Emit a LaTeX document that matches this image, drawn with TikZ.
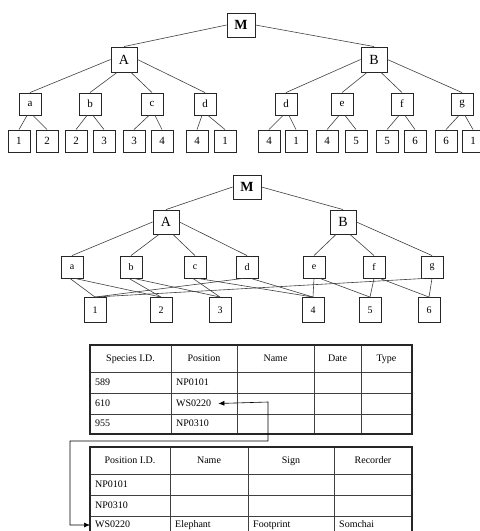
\documentclass[tikz,border=0pt]{standalone}
\usepackage{fontspec}
\setmainfont{Liberation Serif}
\usetikzlibrary{arrows.meta}
\begin{document}
\begin{tikzpicture}[x=1pt,y=-1pt,
  bigbox/.style={draw=black!85,line width=0.9pt,minimum width=26pt,minimum height=25pt,inner sep=0pt,font=\fontsize{14}{16}\selectfont},
  midbox/.style={draw=black!85,line width=0.9pt,minimum width=22pt,minimum height=22pt,inner sep=0pt,font=\fontsize{11}{13}\selectfont},
  leaftwo/.style={midbox,minimum height=25pt,font=\fontsize{10}{12}\selectfont},
  conn/.style={draw=black!75,line width=0.6pt},
  cell/.style={font=\fontsize{10}{12}\selectfont,inner sep=0pt,text height=7pt,text depth=2pt},
  outer/.style={draw=black!85,line width=1.6pt},
  inner/.style={draw=black!75,line width=0.7pt},
  link/.style={draw=black,line width=0.6pt,{Latex[length=6pt,width=5pt]}-{Latex[length=6pt,width=5pt]}}
]
\clip (0,0) rectangle (480,531);
\fill[white] (0,0) rectangle (480,531);

% ---------------- Tree 1 ----------------
\node[bigbox,minimum width=28pt,minimum height=24pt,font=\fontsize{14}{16}\selectfont\bfseries] (M1) at (241,25) {M};
\node[bigbox] (A1) at (124,59.5) {A};
\node[bigbox] (B1) at (374,59.5) {B};
\foreach \n/\x/\t in {pa/30/a,pb/90/b,pc/152/c,pd/205/d,pe/286/d,pf/342/e,pg/402/f,ph/462/g}
  \node[midbox] (\n) at (\x,104) {\t};
\foreach \i/\x/\t in {1/19/1,2/47/2,3/76/2,4/104/3,5/134/3,6/162/4,7/197/4,8/225/1,9/269/4,10/296/1,11/327/4,12/356/5,13/387/5,14/415/6,15/446/6,16/473/1}
  \node[midbox] (L\i) at (\x,141) {\t};

\draw[conn] (M1.west) -- (A1.north);
\draw[conn] (M1.east) -- (B1.north);
\draw[conn] (A1.west) -- (pa.north);
\draw[conn] ([xshift=-7]A1.south) -- (pb.north);
\draw[conn] ([xshift=7]A1.south) -- (pc.north);
\draw[conn] (A1.east) -- (pd.north);
\draw[conn] (B1.west) -- (pe.north);
\draw[conn] ([xshift=-7]B1.south) -- (pf.north);
\draw[conn] ([xshift=7]B1.south) -- (pg.north);
\draw[conn] (B1.east) -- (ph.north);
\foreach \p/\l/\r in {pa/1/2,pb/3/4,pc/5/6,pd/7/8,pe/9/10,pf/11/12,pg/13/14,ph/15/16}{
  \draw[conn] ([xshift=-3]\p.south) -- (L\l.north);
  \draw[conn] ([xshift=3]\p.south) -- (L\r.north);
}

% ---------------- Tree 2 ----------------
\node[bigbox,minimum width=28pt,minimum height=24pt,font=\fontsize{14}{16}\selectfont\bfseries] (M2) at (247,187) {M};
\node[bigbox,minimum height=24pt] (A2) at (166,222) {A};
\node[bigbox,minimum height=24pt] (B2) at (343,222) {B};
\foreach \n/\x/\t in {qa/72/a,qb/131/b,qc/195/c,qd/247/d,qe/314/e,qf/374/f,qg/432/g}
  \node[midbox,font=\fontsize{10}{12}\selectfont] (\n) at (\x,267) {\t};
\foreach \i/\x in {1/95,2/161,3/220,4/313,5/370,6/429}
  \node[leaftwo] (K\i) at (\x,310) {\i};

\draw[conn] (M2.west) -- (A2.north);
\draw[conn] (M2.east) -- (B2.north);
\draw[conn] (A2.west) -- (qa.north);
\draw[conn] ([xshift=-7]A2.south) -- (qb.north);
\draw[conn] ([xshift=7]A2.south) -- (qc.north);
\draw[conn] (A2.east) -- (qd.north);
\draw[conn] ([xshift=-7]B2.south) -- (qe.north);
\draw[conn] ([xshift=7]B2.south) -- (qf.north);
\draw[conn] (B2.east) -- (qg.north);

\draw[conn] ([xshift=-2]qa.south) -- (K1.north);
\draw[conn] ([xshift=3]qa.south) -- (K2.north);
\draw[conn] ([xshift=-2]qb.south) -- (K2.north);
\draw[conn] ([xshift=3]qb.south) -- (K3.north);
\draw[conn] ([xshift=-2]qc.south) -- (K3.north);
\draw[conn] ([xshift=3]qc.south) -- (K4.north);
\draw[conn] ([xshift=-4]qd.south) -- (K1.north);
\draw[conn] ([xshift=4]qd.south) -- (K4.north);
\draw[conn] (qe.south) -- (K4.north);
\draw[conn] ([xshift=6]qe.south) -- (K5.north);
\draw[conn] (qf.south) -- (K5.north);
\draw[conn] ([xshift=6]qf.south) -- (K6.north);
\draw[conn] (qg.south) -- (K6.north);
\draw[conn] ([xshift=-8]qg.south) -- (K1.north);

% ---------------- Table 1 ----------------
\foreach \y in {372,393,414} \draw[inner] (90,\y) -- (412,\y);
\foreach \x in {171,237,314,361} \draw[inner] (\x,345) -- (\x,434);
\draw[outer] (90,345) rectangle (412,434);
\node[cell] (h11) at (130.5,358.5) {Species I.D.};
\node[cell] (h12) at (204,358.5) {Position};
\node[cell] (h13) at (275.5,358.5) {Name};
\node[cell] (h14) at (337.5,358.5) {Date};
\node[cell] (h15) at (386.5,358.5) {Type};
\node[cell,anchor=west] (s1) at (95,382.5) {589};
\node[cell,anchor=west] (p1) at (176,382.5) {NP0101};
\node[cell,anchor=west] (s2) at (95,403.5) {610};
\node[cell,anchor=west] (ws1) at (176,403.5) {WS0220};
\node[cell,anchor=west] (s3) at (95,424) {955};
\node[cell,anchor=west] (p3) at (176,424) {NP0310};

% ---------------- Table 2 ----------------
\foreach \y in {474,495,516} \draw[inner] (90,\y) -- (412,\y);
\foreach \x in {170,248,334} \draw[inner] (\x,447) -- (\x,540);
\draw[outer] (90,447) rectangle (412,540);
\node[cell] (h21) at (130,460.5) {Position I.D.};
\node[cell] (h22) at (209,460.5) {Name};
\node[cell] (h23) at (291,460.5) {Sign};
\node[cell] (h24) at (373,460.5) {Recorder};
\node[cell,anchor=west] (r1) at (95,484.5) {NP0101};
\node[cell,anchor=west] (r2) at (95,505.5) {NP0310};
\node[cell,anchor=west] (ws2) at (95,525) {WS0220};
\node[cell,anchor=west] (n3) at (175,525) {Elephant};
\node[cell,anchor=west] (g3) at (253,525) {Footprint};
\node[cell,anchor=west] (c3) at (339,525) {Somchai};
\coordinate (t2in) at (90,525);

% ---------------- Link ----------------
\draw[link] ([xshift=7]ws1.east) -- (268,402) -- (268,441) -- (70,441) -- (70,525) -- (t2in);
\end{tikzpicture}
\end{document}
